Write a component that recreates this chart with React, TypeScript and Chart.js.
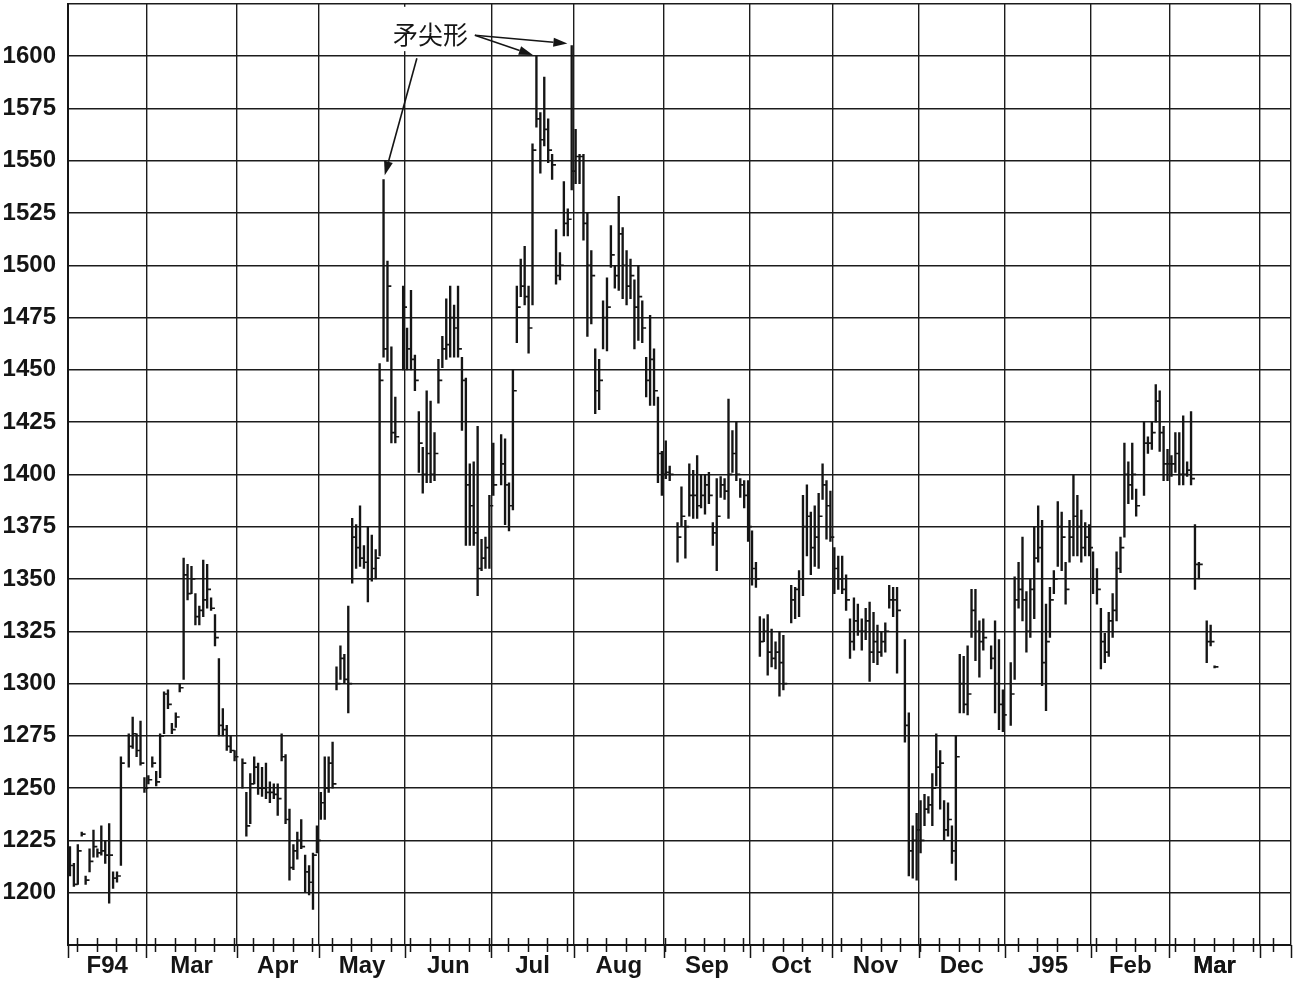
import React, { useEffect, useRef } from 'react';
import { Chart, registerables } from 'chart.js';

Chart.register(...registerables);

// Month labels and the weekday slot at which each month starts (slot 0 = 1 Feb 1994)
const monthLabels = ['F94', 'Mar', 'Apr', 'May', 'Jun', 'Jul', 'Aug', 'Sep', 'Oct', 'Nov', 'Dec', 'J95', 'Feb', 'Mar'];
const monthStarts = [0, 20, 43, 64, 86, 108, 129, 152, 174, 195, 217, 239, 261, 281, 304];
const axisEnd = 312;
const yTickValues = [1175, 1200, 1225, 1250, 1275, 1300, 1325, 1350, 1375, 1400, 1425, 1450, 1475, 1500, 1525, 1550, 1575, 1600, 1625];
const weekTickStart = 2.3;
const weekTickStep = 5;

// Daily bars, one entry per weekday slot (null = no trading)
const highs: (number | null)[] = [
  1222, 1214, 1223, 1229, 1208, 1221, 1230, 1221, 1232, 1225, 1233, 1210, 1210, 1265, null, 1276, 1284, 1276, 1282, 1255,
  1256, 1265, 1258, 1276, 1296, 1297, 1281, 1286, 1300, 1360, 1357, 1356, 1343, 1337, 1359, 1357, 1341, 1333, 1312, 1288, 1280, 1275, 1268,
  null, 1264, 1248, 1257, 1265, 1262, 1260, 1262, 1253, 1252, 1252, 1276, 1266, 1240, 1223, 1229, 1235, 1218, 1213, 1219, 1232,
  1248, 1265, 1265, 1272, 1308, 1318, 1314, 1337, 1379, 1376, 1385, 1366, 1375, 1371, 1364, 1453, 1541, 1502, 1461, 1437, null, 1490,
  1470, 1488, 1457, 1430, 1413, 1440, 1435, 1420, 1455, 1466, 1484, 1490, 1481, 1490, 1456, 1446, 1405, 1406, 1423, 1369, 1370, 1390,
  1415, null, 1419, 1417, 1396, 1450, 1490, 1503, 1509, 1490, 1558, 1600, 1573, 1590, 1570, 1553, 1517, 1506, 1540, 1527, 1605,
  1565, 1553, 1553, 1525, 1507, 1460, 1455, 1483, 1494, 1519, 1500, 1533, 1518, 1507, 1503, 1493, 1500, 1483, 1456, 1476, 1460, 1437, 1411,
  1416, 1404, null, 1377, 1394, 1378, 1405, 1402, 1409, 1400, 1400, 1401, 1377, 1398, 1399, 1398, 1436, 1421, 1425, 1398, 1397, 1397,
  1373, 1358, 1332, 1331, 1333, 1326, 1320, 1325, 1323, null, 1347, 1346, 1354, 1390, 1395, 1382, 1385, 1391, 1405, 1397, 1392,
  1365, 1361, 1361, 1352, 1331, 1341, 1338, 1331, 1336, 1339, 1334, 1328, 1325, 1329, 1347, 1346, 1346, null, 1321, 1286, 1232, 1238,
  1244, 1247, 1246, 1257, 1276, 1268, 1244, 1243, 1232, 1275, 1314, 1313, 1318, 1345, 1345, 1330, 1331, null, 1318, 1330, 1321, 1297,
  null, 1310, 1351, 1358, 1370, 1344, 1350, 1375, 1385, 1378, 1338, 1346, 1354, 1387, 1382, 1358, 1378, 1400, 1390, 1383, 1377, 1376,
  1363, 1355, 1336, 1324, 1334, 1343, 1363, 1370, 1415, 1406, 1415, 1393, null, 1425, 1418, 1425, 1443, 1440, 1423, 1412,
  1409, 1420, 1420, 1428, 1406, 1430, 1376, 1358, null, 1330, 1328, 1308.5
];
const lows: (number | null)[] = [
  1208, 1203, 1204, 1227, 1204, 1210, 1217, 1217, 1218, 1214, 1195, 1202, 1205, 1213, null, 1260, 1269, 1265, 1261, 1248,
  1252, 1260, 1251, 1255, 1276, 1288, 1276, 1279, 1296, 1302, 1340, 1343, 1328, 1328, 1332, 1336, 1335, 1318, 1275, 1275, 1268, 1267, 1263,
  null, 1250, 1227, 1233, 1252, 1247, 1246, 1245, 1243, 1245, 1237, 1263, 1233, 1206, 1211, 1216, 1221, 1200, 1199, 1192, 1219,
  1235, 1235, 1248, 1250, 1297, 1302, 1300, 1286, 1348, 1355, 1356, 1355, 1339, 1349, 1350, 1361, 1456, 1454, 1415, 1415, null, 1450,
  1450, 1450, 1440, 1401, 1391, 1396, 1396, 1397, 1434, 1451, 1455, 1456, 1456, 1456, 1421, 1366, 1366, 1366, 1342, 1354, 1355, 1355,
  1390, null, 1395, 1376, 1373, 1383, 1463, 1485, 1481, 1458, 1481, 1566, 1544, 1557, 1549, 1541, 1491, 1493, 1514, 1514, 1536,
  1539, 1539, 1512, 1466, 1472, 1429, 1431, 1460, 1459, 1499, 1489, 1488, 1484, 1481, 1484, 1460, 1464, 1463, 1437, 1433, 1433, 1396, 1390,
  1398, 1397, null, 1358, 1375, 1360, 1380, 1379, 1379, 1384, 1381, 1386, 1366, 1354, 1389, 1388, 1379, 1401, 1397, 1389, 1384, 1368,
  1347, 1346, 1313, 1320, 1304, 1308, 1307, 1294, 1297, null, 1329, 1331, 1332, 1342, 1361, 1352, 1356, 1355, 1388, 1369, 1368,
  1343, 1345, 1343, 1335, 1312, 1316, 1323, 1316, 1321, 1301, 1310, 1309, 1313, 1315, 1336, 1332, 1305, null, 1272, 1208, 1207, 1206,
  1219, 1232, 1238, 1232, 1251, 1240, 1225, 1227, 1214, 1206, 1286, 1286, 1285, 1322, 1311, 1303, 1316, null, 1307, 1286, 1278, 1277,
  null, 1280, 1302, 1336, 1330, 1315, 1322, 1331, 1358, 1299, 1287, 1322, 1343, 1356, 1354, 1338, 1358, 1361, 1361, 1358, 1361, 1361,
  1343, 1338, 1307, 1310, 1313, 1322, 1330, 1353, 1370, 1386, 1388, 1380, null, 1390, 1410, 1412, 1425, 1411, 1397, 1397,
  1399, 1401, 1395, 1395, 1399, 1395, 1345, 1350, null, 1310, 1318, 1307.5
];
const closes: (number | null)[] = [
  1213, 1204, 1220, 1228, 1206, 1215, 1222, 1219, 1220, 1218, 1218, 1207, 1208, 1262, null, 1270, 1276, 1268, 1262, 1250,
  1254, 1262, 1253, 1275, 1295, 1290, 1278, 1284, 1298, 1352, 1343, 1350, 1332, 1335, 1340, 1345, 1336, 1322, 1280, 1278, 1270, 1268, 1265,
  null, 1262, 1232, 1252, 1260, 1250, 1250, 1248, 1248, 1247, 1245, 1265, 1235, 1212, 1220, 1225, 1222, 1210, 1205, 1218, 1225,
  1243, 1250, 1262, 1252, 1300, 1312, 1302, 1300, 1370, 1365, 1360, 1358, 1350, 1355, 1360, 1445, 1460, 1490, 1420, 1418, null, 1480,
  1460, 1455, 1445, 1415, 1400, 1410, 1400, 1410, 1445, 1460, 1462, 1475, 1470, 1460, 1445, 1395, 1385, 1372, 1355, 1360, 1365, 1385,
  1395, null, 1405, 1395, 1385, 1440, 1480, 1490, 1485, 1470, 1555, 1570, 1560, 1565, 1555, 1548, 1495, 1500, 1520, 1522, 1545,
  1552, 1552, 1520, 1500, 1495, 1440, 1445, 1475, 1480, 1505, 1495, 1515, 1500, 1490, 1495, 1480, 1485, 1470, 1445, 1455, 1440, 1410, 1400,
  1401, 1400, null, 1370, 1380, 1375, 1390, 1390, 1385, 1390, 1395, 1390, 1372, 1380, 1395, 1392, 1400, 1410, 1400, 1395, 1390, 1375,
  1355, 1350, 1320, 1325, 1315, 1312, 1315, 1310, 1300, null, 1340, 1345, 1350, 1375, 1380, 1365, 1370, 1380, 1395, 1385, 1370,
  1355, 1350, 1345, 1340, 1320, 1330, 1325, 1325, 1330, 1315, 1320, 1315, 1320, 1325, 1340, 1340, 1335, null, 1280, 1220, 1225, 1230,
  1225, 1240, 1242, 1250, 1260, 1262, 1230, 1235, 1220, 1265, 1300, 1290, 1295, 1335, 1325, 1320, 1322, null, 1312, 1300, 1290, 1285,
  null, 1295, 1340, 1345, 1340, 1325, 1345, 1360, 1365, 1310, 1320, 1340, 1350, 1375, 1370, 1345, 1370, 1380, 1375, 1365, 1370, 1365,
  1350, 1345, 1320, 1315, 1330, 1335, 1355, 1365, 1400, 1395, 1400, 1385, null, 1415, 1415, 1420, 1435, 1420, 1405, 1405,
  1405, 1410, 1400, 1400, 1402, 1398, 1357, 1357, null, 1320, 1320, 1308
];

// Annotation: label position and arrow tips, in (slot, price)
const annotationText = '矛尖形';
const annotationPos = { x: 92.5, y: 1610.5 };
const arrows = [
  { from: { x: 89, y: 1599 }, to: { x: 80.8, y: 1543 } },
  { from: { x: 103.8, y: 1610 }, to: { x: 118.6, y: 1600.5 } },
  { from: { x: 103.8, y: 1610 }, to: { x: 127.4, y: 1606 } },
];

const INK = '#151515';
const FONT = '"Liberation Sans", Arial, Helvetica, sans-serif';

export default function App() {
  const ref = useRef<HTMLCanvasElement>(null);

  useEffect(() => {
    if (!ref.current) return;
    const barData: any[] = [];
    const closeData: any[] = [];
    highs.forEach((h, i) => {
      if (h == null || lows[i] == null) return;
      barData.push({ x: i + 0.5, y: [lows[i], h] });
      closeData.push({ x: i + 0.95, y: closes[i] });
    });

    const boundaries = [...monthStarts, axisEnd];
    const boundarySet = new Set(boundaries);
    const mids = monthStarts.map((s, i) => (s + (i + 1 < monthStarts.length ? monthStarts[i + 1] : 304 + 21)) / 2);
    mids[mids.length - 1] = 292.5;

    const decor = {
      id: 'decor',
      afterDraw(chart: any) {
        const { ctx, chartArea, scales } = chart;
        const x = scales.x;
        const y = scales.y;
        ctx.save();
        ctx.strokeStyle = INK;
        ctx.lineWidth = 1.5;
        const yb = chartArea.bottom;
        ctx.beginPath();
        for (let v = weekTickStart; v < axisEnd; v += weekTickStep) {
          const px = Math.round(x.getPixelForValue(v)) + 0.5;
          ctx.moveTo(px, yb - 7);
          ctx.lineTo(px, yb + 7);
        }
        for (const b of boundaries) {
          const px = Math.round(x.getPixelForValue(b)) + 0.5;
          ctx.moveTo(px, yb);
          ctx.lineTo(px, yb + 13);
        }
        ctx.stroke();

        // annotation
        const tx = x.getPixelForValue(annotationPos.x);
        const ty = y.getPixelForValue(annotationPos.y);
        ctx.fillStyle = '#ffffff';
        ctx.fillRect(tx - 46, chartArea.top + 3, 92, ty - chartArea.top + 14);
        ctx.fillStyle = INK;
        ctx.font = '25px "Noto Sans CJK SC", sans-serif';
        ctx.textAlign = 'center';
        ctx.textBaseline = 'middle';
        ctx.fillText(annotationText, tx, ty);

        ctx.lineWidth = 1.6;
        for (const a of arrows) {
          const x1 = x.getPixelForValue(a.from.x);
          const y1 = y.getPixelForValue(a.from.y);
          const x2 = x.getPixelForValue(a.to.x);
          const y2 = y.getPixelForValue(a.to.y);
          const ang = Math.atan2(y2 - y1, x2 - x1);
          const len = 14;
          const hw = 4.5;
          const bx = x2 - Math.cos(ang) * len;
          const by = y2 - Math.sin(ang) * len;
          ctx.beginPath();
          ctx.moveTo(x1, y1);
          ctx.lineTo(bx, by);
          ctx.stroke();
          ctx.beginPath();
          ctx.moveTo(x2, y2);
          ctx.lineTo(bx - Math.sin(ang) * hw, by + Math.cos(ang) * hw);
          ctx.lineTo(bx + Math.sin(ang) * hw, by - Math.cos(ang) * hw);
          ctx.closePath();
          ctx.fill();
        }
        ctx.restore();
      },
    };

    const chart = new Chart(ref.current, {
      type: 'bar',
      data: {
        datasets: [
          {
            type: 'bar',
            data: barData,
            backgroundColor: INK,
            borderWidth: 0,
            barThickness: 1.7,
            grouped: false,
          } as any,
          {
            type: 'scatter',
            data: closeData,
            pointStyle: 'line',
            pointRadius: 2.1,
            pointHoverRadius: 2.1,
            pointBorderWidth: 1.7,
            borderWidth: 1.7,
            borderColor: INK,
            backgroundColor: INK,
            showLine: false,
          } as any,
        ],
      },
      options: {
        animation: false,
        responsive: false,
        events: [],
        layout: { padding: { top: 2, right: 5, left: 0, bottom: 0 } },
        plugins: { legend: { display: false }, tooltip: { enabled: false } },
        scales: {
          x: {
            type: 'linear',
            min: 0,
            max: axisEnd,
            offset: false,
            afterBuildTicks: (s: any) => {
              s.ticks = [...boundaries, ...mids].sort((a, b) => a - b).map((v) => ({ value: v }));
            },
            afterFit: (s: any) => {
              s.height = 36;
              s.paddingLeft = 0;
              s.paddingRight = 0;
            },
            grid: {
              offset: false,
              drawTicks: false,
              lineWidth: 1.4,
              color: (c: any) => (c.tick && boundarySet.has(c.tick.value) ? '#1c1c1c' : 'rgba(0,0,0,0)'),
            },
            border: { color: INK, width: 2 },
            ticks: {
              autoSkip: false,
              maxRotation: 0,
              minRotation: 0,
              padding: 7,
              color: INK,
              font: { family: FONT, size: 24, weight: 'bold' },
              callback: (v: any) => {
                const k = mids.indexOf(Number(v));
                return k >= 0 ? monthLabels[k] : '';
              },
            },
          },
          y: {
            type: 'linear',
            min: yTickValues[0],
            max: yTickValues[yTickValues.length - 1],
            afterBuildTicks: (s: any) => {
              s.ticks = yTickValues.map((v) => ({ value: v }));
            },
            afterFit: (s: any) => {
              s.width = 68;
              s.paddingTop = 0;
              s.paddingBottom = 0;
            },
            grid: { drawTicks: false, lineWidth: 1.4, color: '#1c1c1c' },
            border: { color: INK, width: 2 },
            ticks: {
              padding: 12,
              color: INK,
              font: { family: FONT, size: 24, weight: 'bold' },
              callback: (v: any) => (v === yTickValues[0] || v === yTickValues[yTickValues.length - 1] ? '' : String(v)),
            },
          },
        },
      } as any,
      plugins: [decor],
    });
    return () => chart.destroy();
  }, []);

  return (
    <div style={{ position: 'fixed', left: 0, top: 0, width: 1296, height: 981, background: '#fff' }}>
      <canvas ref={ref} width={1296} height={981} style={{ display: 'block' }} />
    </div>
  );
}
